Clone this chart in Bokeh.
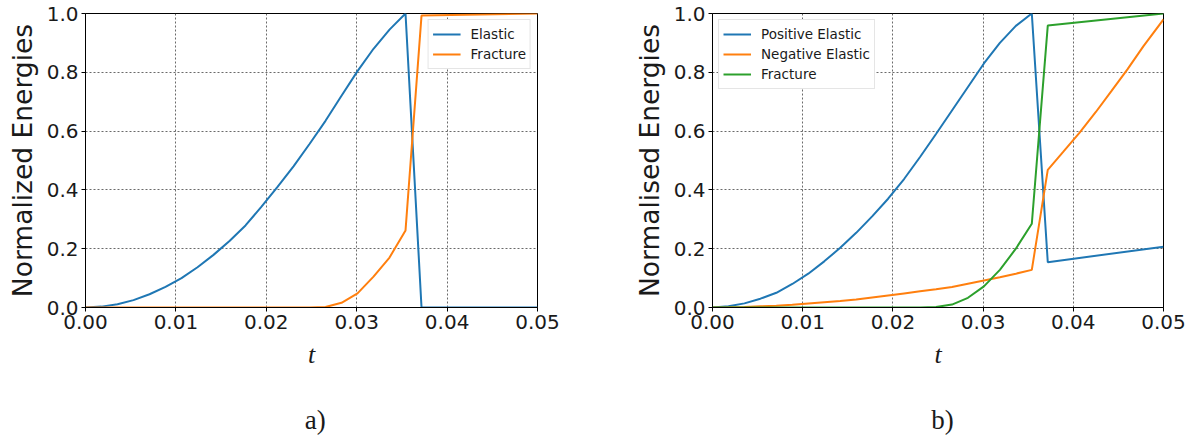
from bokeh.plotting import figure
from bokeh.layouts import row, column
from bokeh.models import Range1d, FixedTicker, PrintfTickFormatter, Legend, LegendItem, Label
from bokeh.embed import file_html
from bokeh.resources import INLINE

# ---- data: panel a) ----
t_a = [0.0, 0.00177, 0.00354, 0.00531, 0.00708, 0.00885, 0.01062, 0.01239, 0.01416,
       0.01593, 0.0177, 0.01947, 0.02124, 0.02301, 0.02478, 0.02655, 0.02832, 0.03009,
       0.03186, 0.03363, 0.0354, 0.03717, 0.05]
elastic_a = [0.0, 0.003, 0.011, 0.025, 0.045, 0.070, 0.100, 0.137, 0.179, 0.226, 0.279,
             0.343, 0.410, 0.480, 0.556, 0.635, 0.720, 0.804, 0.880, 0.945, 1.0, 0.0, 0.0]
fracture_a = [0.0, 0.0, 0.0, 0.0, 0.0, 0.0, 0.0, 0.0, 0.0, 0.0, 0.0, 0.0, 0.0, 0.0, 0.0,
              0.002, 0.016, 0.048, 0.105, 0.170, 0.262, 0.993, 1.0]

# ---- data: panel b) ----
t_b = [0.0, 0.00177, 0.00354, 0.00531, 0.00708, 0.00885, 0.01062, 0.01239, 0.01416,
       0.01593, 0.0177, 0.01947, 0.02124, 0.02301, 0.02478, 0.02655, 0.02832, 0.03009,
       0.03186, 0.03363, 0.0354, 0.03717]
pos_elastic_b = [0.0, 0.004, 0.014, 0.030, 0.050, 0.080, 0.115, 0.157, 0.203, 0.254, 0.310,
                 0.370, 0.437, 0.512, 0.590, 0.670, 0.750, 0.830, 0.900, 0.958, 1.0, 0.154]
neg_elastic_b = [0.0, 0.0005, 0.002, 0.004, 0.006, 0.009, 0.014, 0.018, 0.022, 0.027, 0.034,
                 0.041, 0.048, 0.055, 0.062, 0.070, 0.081, 0.092, 0.103, 0.115, 0.128, 0.468]
fracture_b = [0.0, 0.0, 0.0, 0.0, 0.0, 0.0, 0.0, 0.0, 0.0, 0.0, 0.0, 0.0, 0.0, 0.0, 0.002,
              0.010, 0.033, 0.072, 0.128, 0.200, 0.285, 0.959]
# values after the drop
t_b_tail = [0.05]
pos_elastic_tail = [0.207]
fracture_tail = [1.0]
t_neg_tail = [0.0389, 0.0407, 0.0425, 0.0442, 0.046, 0.0478, 0.05]
neg_elastic_tail = [0.530, 0.595, 0.665, 0.735, 0.810, 0.890, 0.980]

x_ticks = [0.0, 0.01, 0.02, 0.03, 0.04, 0.05]
y_ticks = [0.0, 0.2, 0.4, 0.6, 0.8, 1.0]
captions = ["a)", "b)"]

BLUE = "#1f77b4"
ORANGE = "#ff7f0e"
GREEN = "#2ca02c"
TXT = "#1a1a1a"

PANEL_W = 594
PANEL_H = 395
CAPTION_H = 45


def make_panel(border_left, border_right, ylabel):
    p = figure(width=PANEL_W, height=PANEL_H, output_backend="svg", toolbar_location=None,
               x_range=Range1d(0, 0.05), y_range=Range1d(0, 1.0),
               min_border_left=border_left, min_border_right=border_right,
               min_border_top=13, min_border_bottom=88)
    p.outline_line_color = "black"
    p.outline_line_width = 1
    p.background_fill_color = "white"
    p.border_fill_color = "white"
    for ax in (p.xaxis[0], p.yaxis[0]):
        ax.axis_line_color = "black"
        ax.major_tick_line_color = "black"
        ax.major_tick_in = 0
        ax.major_tick_out = 4
        ax.minor_tick_line_color = None
        ax.major_label_text_font = "DejaVu Sans"
        ax.major_label_text_font_size = "20px"
        ax.major_label_text_color = TXT
    p.xaxis.ticker = FixedTicker(ticks=x_ticks)
    p.yaxis.ticker = FixedTicker(ticks=y_ticks)
    p.xaxis.formatter = PrintfTickFormatter(format="%.2f")
    p.yaxis.formatter = PrintfTickFormatter(format="%.1f")
    p.xaxis.major_label_standoff = 3
    p.yaxis.major_label_standoff = 3

    p.xaxis.axis_label = "t"
    p.xaxis.axis_label_text_font = "Liberation Serif"
    p.xaxis.axis_label_text_font_style = "italic"
    p.xaxis.axis_label_text_font_size = "26px"
    p.xaxis.axis_label_text_color = TXT
    p.xaxis.axis_label_standoff = 8

    p.yaxis.axis_label = ylabel
    p.yaxis.axis_label_text_font = "DejaVu Sans"
    p.yaxis.axis_label_text_font_style = "normal"
    p.yaxis.axis_label_text_font_size = "26.5px"
    p.yaxis.axis_label_text_color = TXT
    p.yaxis.axis_label_standoff = 6

    for g in (p.xgrid[0], p.ygrid[0]):
        g.grid_line_color = "#444444"
        g.grid_line_dash = "2 2"
        g.grid_line_width = 0.8
    return p


def make_caption(text, x_frac):
    # thin strip holding the sub-figure caption
    c = figure(width=PANEL_W, height=CAPTION_H, output_backend="svg", toolbar_location=None,
               x_range=Range1d(0, 1), y_range=Range1d(0, 1),
               x_axis_location=None, y_axis_location=None,
               min_border=0, outline_line_color=None)
    c.xgrid.visible = False
    c.ygrid.visible = False
    c.add_layout(Label(x=x_frac, y=0.45, text=text,
                       text_font="Liberation Serif", text_font_size="27px",
                       text_color=TXT, text_align="center", text_baseline="middle"))
    return c


def style_legend(leg, location):
    leg.location = location
    leg.margin = 6
    leg.padding = 4
    leg.spacing = 0
    leg.glyph_width = 28
    leg.glyph_height = 20
    leg.label_height = 20
    leg.label_standoff = 10
    leg.label_text_font = "DejaVu Sans"
    leg.label_text_font_size = "13.5px"
    leg.label_text_color = TXT
    leg.border_line_color = "#cccccc"
    leg.border_line_width = 1
    leg.background_fill_alpha = 1.0


# panel a)
pa = make_panel(85, 57, "Normalized Energies")
ra1 = pa.line(t_a, elastic_a, line_color=BLUE, line_width=2)
ra2 = pa.line(t_a, fracture_a, line_color=ORANGE, line_width=2)
leg_a = Legend(items=[LegendItem(label="Elastic", renderers=[ra1]),
                      LegendItem(label="Fracture", renderers=[ra2])])
style_legend(leg_a, "top_right")
pa.add_layout(leg_a)

# panel b)
pb = make_panel(118, 25, "Normalised Energies")
rb1 = pb.line(t_b + t_b_tail, pos_elastic_b + pos_elastic_tail, line_color=BLUE, line_width=2)
rb2 = pb.line(t_b + t_neg_tail, neg_elastic_b + neg_elastic_tail, line_color=ORANGE, line_width=2)
rb3 = pb.line(t_b + t_b_tail, fracture_b + fracture_tail, line_color=GREEN, line_width=2)
leg_b = Legend(items=[LegendItem(label="Positive Elastic", renderers=[rb1]),
                      LegendItem(label="Negative Elastic", renderers=[rb2]),
                      LegendItem(label="Fracture", renderers=[rb3])])
style_legend(leg_b, "top_left")
pb.add_layout(leg_b)

ca = make_caption(captions[0], 0.530)
cb = make_caption(captions[1], 0.586)

layout = column(row(pa, pb), row(ca, cb))
open("out.html", "w").write(file_html(layout, INLINE))
